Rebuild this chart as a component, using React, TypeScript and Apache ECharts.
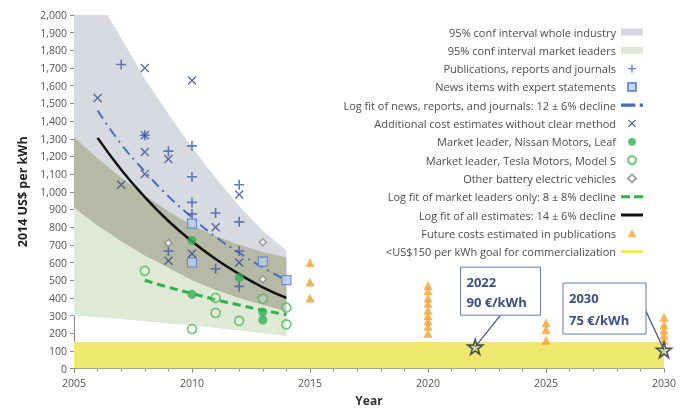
import React, { useEffect, useRef } from "react";
import * as echarts from "echarts";

// ---- data ----
const bandYears = [2005, 2006, 2007, 2008, 2009, 2010, 2011, 2012, 2013, 2014];
const industryUpper = [2330, 2090, 1870, 1640, 1440, 1250, 1080, 920, 780, 670];
const industryLower = [910, 810, 720, 640, 570, 500, 445, 400, 360, 325];
const leadersUpper = [1310, 1190, 1080, 980, 890, 810, 750, 700, 660, 630];
const leadersLower = [300, 290, 280, 268, 255, 245, 230, 215, 200, 185];

const fitYears = [2006, 2007, 2008, 2009, 2010, 2011, 2012, 2013, 2014];
const fitNews = [1460, 1270, 1115, 975, 855, 745, 655, 572, 500];
const fitAll = [1305, 1125, 970, 835, 720, 620, 535, 460, 400];
const leaderFitYears = [2008, 2009, 2010, 2011, 2012, 2013, 2014];
const fitLeaders = [500, 460, 425, 390, 360, 330, 305];

const publications = [
  [2007, 1720], [2008, 1320], [2009, 1230], [2009, 665], [2010, 1260], [2010, 1085],
  [2010, 940], [2010, 875], [2011, 880], [2011, 565], [2012, 1040], [2012, 830],
  [2012, 665], [2012, 465],
];
const newsItems = [[2010, 820], [2010, 600], [2013, 605], [2014, 500]];
const additional = [
  [2006, 1530], [2007, 1040], [2008, 1700], [2008, 1320], [2008, 1225], [2008, 1100],
  [2009, 1185], [2009, 610], [2010, 1630], [2010, 650], [2011, 800], [2012, 985], [2012, 600],
];
const nissan = [[2010, 725], [2010, 420], [2012, 515], [2013, 320], [2013, 275]];
const tesla = [[2008, 553], [2010, 224], [2011, 400], [2011, 315], [2012, 270], [2013, 395], [2014, 345], [2014, 250]];
const otherBev = [[2009, 710], [2013, 715], [2013, 505]];
const futureCosts = [
  [2015, 600], [2015, 490], [2015, 400],
  [2020, 470], [2020, 440], [2020, 400], [2020, 370], [2020, 330], [2020, 300], [2020, 270], [2020, 240], [2020, 200],
  [2025, 260], [2025, 220], [2025, 160],
  [2030, 290], [2030, 250], [2030, 220], [2030, 190], [2030, 160],
];
const goalYears = [2005, 2030];
const goalLevel = 150;
const goalStars = [[2022, 123], [2030, 105]];
const goalLabels = [["2022", "90 €/kWh"], ["2030", "75 €/kWh"]];

const names = [
  "95% conf interval whole industry",
  "95% conf interval market leaders",
  "Publications, reports and journals",
  "News items with expert statements",
  "Log fit of news, reports, and journals: 12 ± 6% decline",
  "Additional cost estimates without clear method",
  "Market leader, Nissan Motors, Leaf",
  "Market leader, Tesla Motors, Model S",
  "Other battery electric vehicles",
  "Log fit of market leaders only: 8 ± 8% decline",
  "Log fit of all estimates: 14 ± 6% decline",
  "Future costs estimated in publications",
  "<US$150 per kWh goal for commercialization",
];

const FONT = "Open Sans";
const PLUS = "path://M4.2,0H5.8V4.2H10V5.8H5.8V10H4.2V5.8H0V4.2H4.2Z";
const CROSS = "path://M1.1,0L5,3.9L8.9,0L10,1.1L6.1,5L10,8.9L8.9,10L5,6.1L1.1,10L0,8.9L3.9,5L0,1.1Z";
const STAR = "path://M50,0L61,35L98,35L68,57L79,91L50,70L21,91L32,57L2,35L39,35Z";

function bandSeries(name: string | undefined, xs: number[], lower: number[], upper: number[], color: string, z: number) {
  return {
    type: "custom",
    name,
    clip: true,
    z,
    silent: true,
    itemStyle: { color },
    data: xs.map((x, i) => [x, lower[i], upper[i]]),
    encode: { x: 0, y: [1, 2] },
    renderItem: (params: any, api: any) => {
      if (params.dataIndex !== 0) return null;
      const top = xs.map((x, i) => api.coord([x, upper[i]]));
      const bot = xs.map((x, i) => api.coord([x, lower[i]])).reverse();
      return { type: "polygon", shape: { points: top.concat(bot) }, style: { fill: color } };
    },
  };
}

export default function App() {
  const ref = useRef<HTMLDivElement>(null);
  useEffect(() => {
    document.body.style.margin = "0";
    const chart = echarts.init(ref.current!, null, { renderer: "svg" });
    const sy = chart.getHeight() / 411;
    const overlapLower = bandYears.map((_, i) => Math.max(industryLower[i], leadersLower[i]));
    const overlapUpper = bandYears.map((_, i) => Math.min(industryUpper[i], leadersUpper[i]));
    const noBorder = { borderWidth: 0 };
    const axisY = 378.5 * sy;

    const option: any = {
      animation: false,
      textStyle: { fontFamily: FONT },
      grid: { left: 74, width: 590, top: 15 * sy, height: axisY - 15 * sy },
      xAxis: {
        type: "value",
        min: 2005,
        max: 2030,
        interval: 5,
        splitLine: { show: false },
        axisLine: { show: true, lineStyle: { color: "#8a8a8a" } },
        axisTick: { show: true, length: 4, lineStyle: { color: "#8a8a8a" } },
        minorTick: { show: true, splitNumber: 5, length: 3, lineStyle: { color: "#9a9a9a" } },
        axisLabel: {
          fontSize: 10.5, lineHeight: 12, color: "#555", fontFamily: FONT,
          margin: (393 - 378.5) * sy - 6, formatter: (v: number) => String(v),
        },
        name: "Year",
        nameLocation: "middle",
        nameGap: (408 - 378.5) * sy - 7,
        nameTextStyle: { fontWeight: "bold", fontSize: 12, color: "#333", fontFamily: FONT },
      },
      yAxis: {
        type: "value",
        min: 0,
        max: 2000,
        interval: 100,
        splitLine: { show: false },
        axisLine: { show: true, lineStyle: { color: "#8a8a8a" } },
        axisTick: { show: true, length: 4, lineStyle: { color: "#8a8a8a" } },
        axisLabel: {
          fontSize: 10.5, lineHeight: 12, color: "#555", margin: 7, fontFamily: FONT,
          formatter: (v: number) => v.toLocaleString("en-US"),
        },
        name: "2014 US$ per kWh",
        nameLocation: "middle",
        nameGap: 45,
        nameTextStyle: { fontWeight: "bold", fontSize: 12.5, color: "#222", fontFamily: FONT },
      },
      legend: {
        orient: "vertical",
        right: 38,
        top: 27 * sy - 7,
        align: "right",
        itemWidth: 22,
        itemHeight: 8,
        itemGap: 18.3 * sy - 14,
        selectedMode: false,
        textStyle: { fontSize: 11, color: "#4d4d4d", fontFamily: FONT, lineHeight: 14 },
        data: [
          { name: names[0], icon: "path://M0,0H22V7H0Z" },
          { name: names[1], icon: "path://M0,0H22V7H0Z" },
          { name: names[2] },
          { name: names[3], icon: "path://M0,0H10V10H0Z" },
          { name: names[4], icon: "path://M0,0H13V3H0ZM17,0H20V3H17Z", itemStyle: noBorder },
          { name: names[5] },
          { name: names[6] },
          { name: names[7] },
          { name: names[8], icon: "path://M5,0L10,5L5,10L0,5Z" },
          { name: names[9], icon: "path://M0,0H9V3H0ZM13,0H22V3H13Z", itemStyle: noBorder },
          { name: names[10], icon: "path://M0,0H22V3H0Z", itemStyle: noBorder },
          { name: names[11], icon: "path://M5,0L10,9H0Z" },
          { name: names[12], icon: "path://M0,0H22V3H0Z" },
        ],
      },
      series: [
        bandSeries(names[0], bandYears, industryLower, industryUpper, "#d8dae2", 1),
        bandSeries(names[1], bandYears, leadersLower, leadersUpper, "#dfe9d5", 2),
        bandSeries(undefined, bandYears, overlapLower, overlapUpper, "#b6b9a6", 3),
        bandSeries(names[12], goalYears, [0, 0], [goalLevel, goalLevel], "#eee86e", 1),
        {
          type: "line", name: names[4], z: 5, smooth: true, symbol: "none",
          data: fitYears.map((y, i) => [y, fitNews[i]]),
          lineStyle: { color: "#4a6cbc", width: 2, type: [10, 5, 2, 5] },
          itemStyle: { color: "#4a6cbc" },
        },
        {
          type: "line", name: names[10], z: 5, smooth: true, symbol: "none",
          data: fitYears.map((y, i) => [y, fitAll[i]]),
          lineStyle: { color: "#111", width: 2.5 },
          itemStyle: { color: "#111" },
        },
        {
          type: "line", name: names[9], z: 5, smooth: true, symbol: "none",
          data: leaderFitYears.map((y, i) => [y, fitLeaders[i]]),
          lineStyle: { color: "#2db24a", width: 3, type: [8, 5] },
          itemStyle: { color: "#2db24a" },
        },
        {
          type: "scatter", name: names[2], z: 6, symbol: PLUS, symbolSize: 10,
          data: publications, itemStyle: { color: "#3f5aaa" },
        },
        {
          type: "scatter", name: names[3], z: 6, symbol: "rect", symbolSize: 9,
          data: newsItems, itemStyle: { color: "#b8cdf0", borderColor: "#5b7cc4", borderWidth: 1.2 },
        },
        {
          type: "scatter", name: names[5], z: 6, symbol: CROSS, symbolSize: 9,
          data: additional, itemStyle: { color: "#3b4a8a" },
        },
        {
          type: "scatter", name: names[6], z: 7, symbol: "circle", symbolSize: 9,
          data: nissan, itemStyle: { color: "#2fb052" },
        },
        {
          type: "scatter", name: names[7], z: 7, symbol: "circle", symbolSize: 9,
          data: tesla, itemStyle: { color: "rgba(255,255,255,0.25)", borderColor: "#46b957", borderWidth: 1.6 },
        },
        {
          type: "scatter", name: names[8], z: 6, symbol: "diamond", symbolSize: 7,
          data: otherBev, itemStyle: { color: "#fff", borderColor: "#8a8a8a", borderWidth: 1.5 },
        },
        {
          type: "scatter", name: names[11], z: 6, symbol: "triangle", symbolSize: 9,
          data: futureCosts, itemStyle: { color: "#f2a232" },
        },
        {
          type: "scatter", name: "goal", z: 8, symbol: STAR, symbolSize: 15,
          data: goalStars, itemStyle: { color: "#cfd58a", borderColor: "#1f2b4d", borderWidth: 1.6 },
        },
      ],
    };
    chart.setOption(option);

    const p1 = chart.convertToPixel({ gridIndex: 0 }, goalStars[0]) as number[];
    const p2 = chart.convertToPixel({ gridIndex: 0 }, goalStars[1]) as number[];
    const boxColor = "#3d4f8a";
    const box1 = { x: p1[0] - 14.7, y: p1[1] - 79.7 * sy, w: 80, h: 48 * sy };
    const box2 = { x: p2[0] - 101, y: p2[1] - 67 * sy, w: 83, h: 51 * sy };
    const txt = (x: number, y: number, t: string) => ({
      type: "text", x, y, z: 20,
      style: { text: t, fill: boxColor, font: `bold 13px "${FONT}"`, textVerticalAlign: "middle" },
    });
    chart.setOption({
      graphic: [
        { type: "line", z: 19, shape: { x1: box1.x + 40, y1: box1.y + box1.h, x2: p1[0], y2: p1[1] }, style: { stroke: boxColor, lineWidth: 1.2 } },
        { type: "line", z: 19, shape: { x1: box2.x + 81, y1: box2.y + 24 * sy, x2: p2[0], y2: p2[1] }, style: { stroke: boxColor, lineWidth: 1.2 } },
        { type: "rect", z: 19, shape: { x: box1.x, y: box1.y, width: box1.w, height: box1.h }, style: { fill: "#fff", stroke: "#6b7aa8", lineWidth: 1 } },
        { type: "rect", z: 19, shape: { x: box2.x, y: box2.y, width: box2.w, height: box2.h }, style: { fill: "#fff", stroke: "#6b7aa8", lineWidth: 1 } },
        txt(box1.x + 6, box1.y + 15 * sy, goalLabels[0][0]),
        txt(box1.x + 6, box1.y + 35 * sy, goalLabels[0][1]),
        txt(box2.x + 6, box2.y + 15 * sy, goalLabels[1][0]),
        txt(box2.x + 6, box2.y + 37 * sy, goalLabels[1][1]),
      ],
    });
    return () => chart.dispose();
  }, []);
  return <div ref={ref} style={{ position: "fixed", left: 0, top: 0, width: "100vw", height: "100vh" }} />;
}
